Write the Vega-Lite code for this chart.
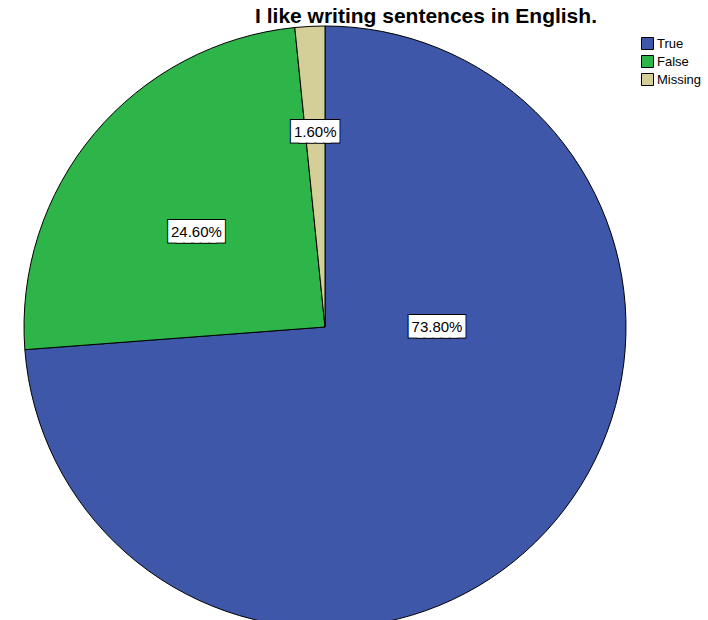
{
  "$schema": "https://vega.github.io/schema/vega-lite/v6.json",
  "width": 624,
  "height": 584,
  "autosize": "none",
  "padding": {"left": 13, "top": 35, "right": 71, "bottom": 1},
  "background": "white",
  "config": {"view": {"stroke": null}},
  "title": {
    "text": "I like writing sentences in English.",
    "font": "Liberation Sans",
    "fontSize": 21,
    "fontWeight": "bold",
    "color": "black",
    "anchor": "middle",
    "dx": 101,
    "offset": 6,
    "dy": 9
  },
  "data": {
    "values": [
      {"response": "True", "percent": 73.8, "label": "73.80%", "rank": 1},
      {"response": "False", "percent": 24.6, "label": "24.60%", "rank": 2},
      {"response": "Missing", "percent": 1.6, "label": "1.60%", "rank": 3}
    ]
  },
  "encoding": {
    "theta": {"field": "percent", "type": "quantitative", "stack": true},
    "order": {"field": "rank", "type": "quantitative", "sort": "ascending"}
  },
  "layer": [
    {
      "mark": {"type": "arc", "outerRadius": 301, "stroke": "black", "strokeWidth": 1},
      "encoding": {
        "color": {
          "field": "response",
          "type": "nominal",
          "sort": ["True", "False", "Missing"],
          "scale": {"domain": ["True", "False", "Missing"], "range": ["#3E57A8", "#2EB54A", "#D4CF98"]},
          "legend": {
            "title": null,
            "orient": "none",
            "legendX": 628,
            "legendY": 2,
            "symbolType": "square",
            "symbolSize": 144,
            "symbolStrokeColor": "black",
            "symbolStrokeWidth": 1,
            "symbolOpacity": 1,
            "labelFont": "Liberation Sans",
            "labelFontSize": 13,
            "labelColor": "black",
            "labelOffset": 3,
            "rowPadding": 1
          }
        }
      }
    },
    {
      "mark": {
        "type": "text",
        "font": "DejaVu Sans Mono",
        "fontSize": 14,
        "fill": "white",
        "stroke": "black",
        "strokeWidth": 8,
        "baseline": "middle",
        "align": "center",
        "text": {"expr": "substring('██████████', 0, length(datum.label))"},
        "radius": {"expr": "datum.response === 'True' ? 112 : datum.response === 'False' ? 160 : 195"},
        "thetaOffset": {"expr": "datum.response === 'True' ? -0.747 : datum.response === 'False' ? -0.06 : 0"}
      }
    },
    {
      "mark": {
        "type": "text",
        "font": "DejaVu Sans Mono",
        "fontSize": 14,
        "fill": "white",
        "stroke": "white",
        "strokeWidth": 6,
        "baseline": "middle",
        "align": "center",
        "text": {"expr": "substring('██████████', 0, length(datum.label))"},
        "radius": {"expr": "datum.response === 'True' ? 112 : datum.response === 'False' ? 160 : 195"},
        "thetaOffset": {"expr": "datum.response === 'True' ? -0.747 : datum.response === 'False' ? -0.06 : 0"}
      }
    },
    {
      "mark": {
        "type": "text",
        "font": "Liberation Sans",
        "fontSize": 15,
        "fill": "black",
        "baseline": "middle",
        "align": "center",
        "radius": {"expr": "datum.response === 'True' ? 112 : datum.response === 'False' ? 160 : 195"},
        "thetaOffset": {"expr": "datum.response === 'True' ? -0.747 : datum.response === 'False' ? -0.06 : 0"}
      },
      "encoding": {"text": {"field": "label", "type": "nominal"}}
    }
  ]
}
